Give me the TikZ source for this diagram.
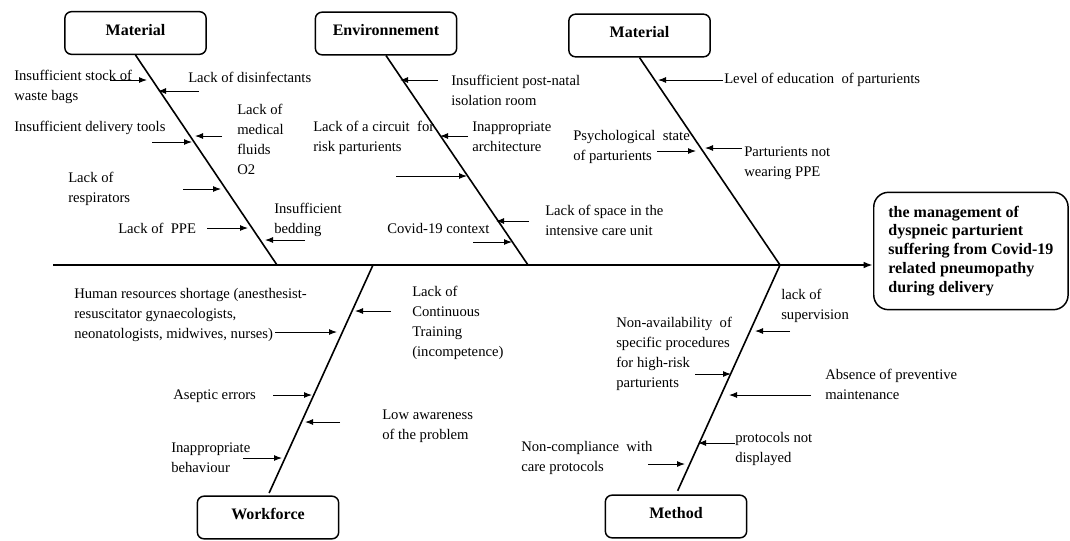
\documentclass[tikz,border=0pt]{standalone}
\usepackage{fontspec}
\setmainfont{Liberation Serif}
\usetikzlibrary{arrows.meta}
\tikzset{
  catbox/.style={draw,line width=1.1pt,rounded corners=5pt,minimum width=106pt,minimum height=32pt,
    font=\bfseries\fontsize{12}{14}\selectfont,text depth=5pt},
  effbox/.style={draw,line width=1.1pt,rounded corners=11pt,anchor=west,align=left,
    minimum height=88pt,inner xsep=11pt,font=\bfseries\fontsize{12}{14.2}\selectfont},
  cause/.style={inner sep=0pt,anchor=west,align=left,font=\fontsize{11}{15}\selectfont},
  spine/.style={line width=1.6pt,-{Latex[length=7pt,width=5pt]}},
  bone/.style={line width=1.2pt},
  arr/.style={line width=0.75pt,-{Latex[length=6pt,width=4.5pt]}}
}

\begin{document}
\begin{tikzpicture}[x=0.75pt,y=-0.75pt]
  \useasboundingbox (0,0) rectangle (1070,540);

  % category boxes
  \node[catbox] (mat1) at (135.5,33) {Material};
  \node[catbox] (env) at (386,33.5) {Environnement};
  \node[catbox] (mat2) at (639.5,35.5) {Material};
  \node[catbox] (work) at (268,517.5) {Workforce};
  \node[catbox] (meth) at (676,516.5) {Method};

  % effect
  \node[effbox] (effect) at (873,251) {the management of\\dyspneic parturient\\suffering from Covid-19\\related pneumopathy\\during delivery};

  % spine and bones
  \coordinate (tail) at (53,265);
  \coordinate (j1) at (277,265);
  \coordinate (j2) at (528,265);
  \coordinate (j3) at (780,265);
  \coordinate (j4) at (373,265);
  \coordinate (j5) at (780,265);
  \draw[spine] (tail) -- (effect.west |- tail);
  \draw[bone] (mat1.south) -- (j1);
  \draw[bone] (env.south) -- (j2);
  \draw[bone] (mat2.south) -- (j3);
  \draw[bone,shorten >=2pt] (j4) -- (work.north);
  \draw[bone,shorten >=3pt] (j5) -- (meth.north);

  % Material (left)
  \node[cause] (ma1) at (14,87) {Insufficient stock of\\waste bags};
  \node[cause] (ma2) at (188,77) {Lack of disinfectants};
  \node[cause] (ma3) at (237,139) {Lack of\\medical\\fluids\\O2};
  \node[cause] (ma4) at (14,128) {Insufficient delivery tools};
  \node[cause] (ma5) at (68,189) {Lack of\\respirators};
  \node[cause] (ma6) at (118,228) {Lack of~ PPE};
  \node[cause] (ma7) at (274,220) {Insufficient\\bedding};
  \draw[arr] (110,80) -- (147,80);
  \draw[arr] (199,91) -- (158,91);
  \draw[arr] (222,136) -- (195,136);
  \draw[arr] (152,142) -- (192,142);
  \draw[arr] (183,189) -- (221,189);
  \draw[arr] (207,228) -- (248,228);
  \draw[arr] (305,240) -- (265,240);

  % Environnement
  \node[cause] (en1) at (451,90) {Insufficient post-natal\\isolation room};
  \node[cause] (en2) at (313,138) {Lack of a circuit~ for\\risk parturients};
  \node[cause] (en3) at (472,137) {Inappropriate\\architecture};
  \node[cause] (en4) at (545,220) {Lack of space in the\\intensive care unit};
  \node[cause] (en5) at (387,228) {Covid-19 context};
  \draw[arr] (438,80) -- (400,80);
  \draw[arr] (468,136) -- (440,136);
  \draw[arr] (396,176) -- (467,176);
  \draw[arr] (529,221) -- (496,221);
  \draw[arr] (473,242) -- (512,242);

  % Material (right)
  \node[cause] (mb1) at (724,80) {Level of education~ of parturients};
  \node[cause] (mb2) at (573,146.5) {Psychological~ state\\of parturients};
  \node[cause] (mb3) at (744,163) {Parturients not\\wearing PPE};
  \draw[arr] (723,80) -- (658,80);
  \draw[arr] (657,151) -- (696,151);
  \draw[arr] (742,148) -- (705,148);

  % Workforce
  \node[cause] (wf1) at (74,315) {Human resources shortage (anesthesist-\\resuscitator gynaecologists,\\neonatologists, midwives, nurses)};
  \node[cause] (wf2) at (412,322.5) {Lack of\\Continuous\\Training\\(incompetence)};
  \node[cause] (wf3) at (173,396) {Aseptic errors};
  \node[cause] (wf4) at (382,426) {Low awareness\\of the problem};
  \node[cause] (wf5) at (171,458) {Inappropriate\\behaviour};
  \draw[arr] (275,332) -- (337,332);
  \draw[arr] (391,311) -- (355,311);
  \draw[arr] (273,395) -- (312,395);
  \draw[arr] (340,422) -- (305,422);
  \draw[arr] (243,458) -- (282,458);

  % Method
  \node[cause] (me1) at (781,306) {lack of\\supervision};
  \node[cause] (me2) at (616,354) {Non-availability~ of\\specific procedures\\for high-risk\\parturients};
  \node[cause] (me3) at (825,384) {Absence of preventive\\maintenance};
  \node[cause] (me4) at (735,449) {protocols not\\displayed};
  \node[cause] (me5) at (521,458) {Non-compliance~ with\\care protocols};
  \draw[arr] (790,331) -- (755,331);
  \draw[arr] (695,374) -- (731,374);
  \draw[arr] (811,395) -- (729,395);
  \draw[arr] (735,443) -- (698,443);
  \draw[arr] (648,464) -- (685,464);
\end{tikzpicture}
\end{document}
